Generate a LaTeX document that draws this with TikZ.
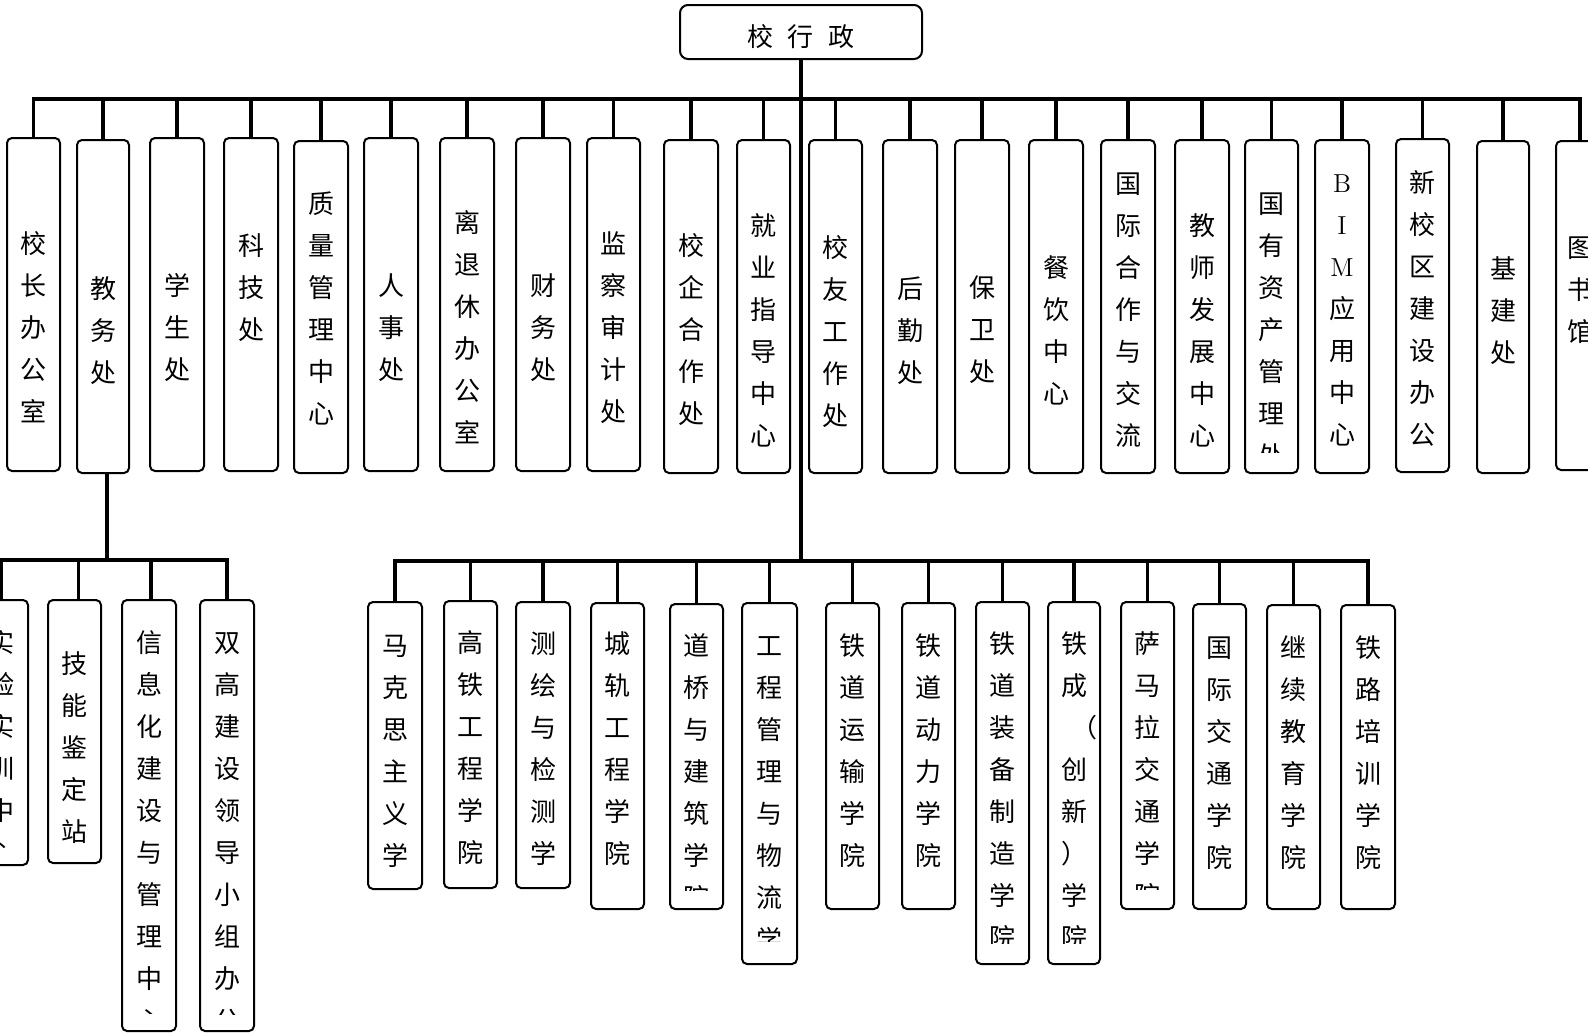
\documentclass[tikz,border=0pt]{standalone}
\usepackage{fontspec}
\newfontfamily\cjk{Noto Sans CJK SC}
\usetikzlibrary{fit}
\tikzset{
  orgbox/.style={draw, line width=1pt, rounded corners=2.5pt, inner sep=0pt},
  conn/.style={line width=1.6pt, line join=miter},
  vtext/.style={font=\cjk\fontsize{13}{21}\selectfont, align=center, inner sep=0pt, anchor=north},
  htext/.style={font=\cjk\fontsize{13}{21}\selectfont, inner sep=0pt},
}
% name, x1, y1, x2, y2, first-char centre y, clip y, text
\newcommand\obox[8]{%
  \node[orgbox, fit={(#2,#3) (#4,#5)}] (#1) {};
  \begin{scope}
    \clip (#2,#3) rectangle (#4,#7);
    \node[vtext] (#1-t) at ({(#2+#4)/2},{#6-13}) {\rule{0pt}{0.88em}#8};
  \end{scope}
}
\begin{document}
\begin{tikzpicture}[x=0.5pt,y=-0.5pt]
\useasboundingbox (0,0) rectangle (1588,1033);
\fill[white] (0,0) rectangle (1588,1033);
\clip (0,0) rectangle (1588,1033);

% top
\node[orgbox, rounded corners=4pt, fit={(680,5) (922,59)}] (top) {};
\node[htext] (top-t) at (801,37) {校\hspace{7.5pt}行\hspace{7.5pt}政};

% upper row
\obox{u1}{7}{138}{60}{471}{243}{469}{校\\长\\办\\公\\室}
\obox{u2}{77}{140}{129}{473}{288}{471}{教\\务\\处}
\obox{u3}{150}{138}{204}{471}{285}{469}{学\\生\\处}
\obox{u4}{224}{138}{278}{471}{245}{469}{科\\技\\处}
\obox{u5}{294}{141}{348}{473}{203}{471}{质\\量\\管\\理\\中\\心}
\obox{u6}{364}{138}{418}{471}{285}{469}{人\\事\\处}
\obox{u7}{440}{138}{494}{471}{222}{469}{离\\退\\休\\办\\公\\室}
\obox{u8}{516}{138}{570}{471}{285}{469}{财\\务\\处}
\obox{u9}{587}{138}{640}{471}{243}{469}{监\\察\\审\\计\\处}
\obox{u10}{664}{140}{718}{473}{245}{471}{校\\企\\合\\作\\处}
\obox{u11}{737}{140}{790}{473}{225}{471}{就\\业\\指\\导\\中\\心}
\obox{u12}{809}{140}{862}{473}{247}{471}{校\\友\\工\\作\\处}
\obox{u13}{883}{140}{937}{473}{288}{471}{后\\勤\\处}
\obox{u14}{955}{140}{1009}{473}{287}{471}{保\\卫\\处}
\obox{u15}{1029}{140}{1083}{473}{267}{471}{餐\\饮\\中\\心}
\obox{u16}{1101}{140}{1155}{473}{183}{471}{国\\际\\合\\作\\与\\交\\流}
\obox{u17}{1175}{140}{1229}{473}{225}{471}{教\\师\\发\\展\\中\\心}
\obox{u18}{1245}{140}{1298}{473}{203}{452}{国\\有\\资\\产\\管\\理\\处}
\obox{u19}{1315}{140}{1369}{473}{182}{471}{\textrm{B}\\\textrm{I}\\\textrm{M}\\应\\用\\中\\心}
\obox{u20}{1396}{139}{1449}{472}{182}{462}{新\\校\\区\\建\\设\\办\\公}
\obox{u21}{1477}{141}{1529}{473}{268}{471}{基\\建\\处}
\obox{u22}{1556}{141}{1604}{470}{247}{468}{图\\书\\馆}

% sub row under 教务处
\obox{s1}{-25}{600}{28}{865}{642}{847}{实\\验\\实\\训\\中\\心}
\obox{s2}{48}{600}{101}{863}{663}{861}{技\\能\\鉴\\定\\站}
\obox{s3}{122}{600}{176}{1031}{642}{1013}{信\\息\\化\\建\\设\\与\\管\\理\\中\\心}
\obox{s4}{200}{600}{254}{1031}{642}{1014}{双\\高\\建\\设\\领\\导\\小\\组\\办\\公}

% colleges
\obox{c1}{368}{602}{422}{889}{645}{880}{马\\克\\思\\主\\义\\学}
\obox{c2}{444}{601}{497}{888}{642}{886}{高\\铁\\工\\程\\学\\院}
\obox{c3}{516}{602}{570}{888}{643}{880}{测\\绘\\与\\检\\测\\学}
\obox{c4}{591}{603}{644}{909}{643}{907}{城\\轨\\工\\程\\学\\院}
\obox{c5}{670}{604}{723}{909}{645}{890}{道\\桥\\与\\建\\筑\\学\\院}
\obox{c6}{742}{603}{797}{964}{645}{941}{工\\程\\管\\理\\与\\物\\流\\学}
\obox{c7}{826}{603}{879}{909}{645}{907}{铁\\道\\运\\输\\学\\院}
\obox{c8}{902}{603}{955}{909}{645}{907}{铁\\道\\动\\力\\学\\院}
\obox{c9}{976}{602}{1029}{964}{643}{943}{铁\\道\\装\\备\\制\\造\\学\\院}
\obox{c10}{1048}{602}{1100}{964}{643}{943}{铁\\成\\\hspace*{10pt}（\\创\\新\\）\\学\\院}
\obox{c11}{1121}{602}{1174}{909}{643}{889}{萨\\马\\拉\\交\\通\\学\\院}
\obox{c12}{1193}{604}{1246}{909}{647}{907}{国\\际\\交\\通\\学\\院}
\obox{c13}{1267}{605}{1320}{909}{647}{907}{继\\续\\教\\育\\学\\院}
\obox{c14}{1341}{605}{1395}{909}{647}{907}{铁\\路\\培\\训\\学\\院}

% connectors
\coordinate (busU) at (0,99);
\coordinate (busS) at (0,560);
\coordinate (busL) at (0,561);

\draw[conn] (u1.north) -- (u1.north |- busU) -- (u22.north |- busU) -- (u22.north);
\foreach \n in {u2,u3,u4,u5,u6,u7,u8,u9,u10,u11,u12,u13,u14,u15,u16,u17,u18,u19,u20,u21}
  \draw[conn] (\n.north |- busU) -- (\n.north);

\draw[conn] (top.south) -- (top.south |- busL);
\draw[conn] (c1.north) -- (c1.north |- busL) -- (c14.north |- busL) -- (c14.north);
\foreach \n in {c2,c3,c4,c5,c6,c7,c8,c9,c10,c11,c12,c13}
  \draw[conn] (\n.north |- busL) -- (\n.north);

\draw[conn] ([xshift=2pt]u2.south) -- ([xshift=2pt]u2.south |- busS);
\draw[conn] (s1.north) -- (s1.north |- busS) -- (s4.north |- busS) -- (s4.north);
\draw[conn] ([xshift=2pt]s2.north |- busS) -- ([xshift=2pt]s2.north);
\draw[conn] ([xshift=1pt]s3.north |- busS) -- ([xshift=1pt]s3.north);
\end{tikzpicture}
\end{document}
